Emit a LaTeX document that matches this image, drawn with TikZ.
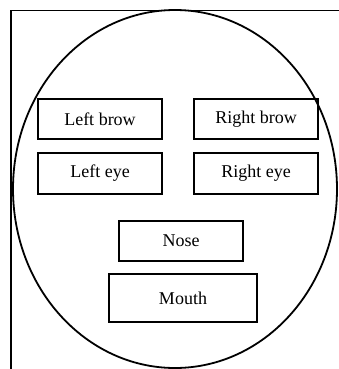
\documentclass[tikz,border=0pt]{standalone}
\usepackage{fontspec}
\setmainfont{Liberation Serif}
\begin{document}
\begin{tikzpicture}[x=1pt,y=-1pt,
  part/.style={draw, line width=1.5pt, minimum width=124pt, minimum height=40pt, inner sep=0pt, font=\fontsize{18}{21}\selectfont}]
\useasboundingbox (0,0) rectangle (339,369);
\coordinate (tr) at (339,10.5);
\coordinate (tl) at (11,10.5);
\coordinate (bl) at (11,369);
\draw[line width=1.5pt] (tr) -- (tl) -- (bl);
\coordinate (c) at (175,189);
\draw[line width=1.8pt] (c) ellipse [x radius=162, y radius=179];
\node[part] (lbrow) at (100,119) {Left brow};
\node[part] (rbrow) at (256,119) {Right brow};
\node[part, minimum height=41pt] (leye) at (100,173.5) {Left eye};
\node[part, minimum height=41pt] (reye) at (256,173.5) {Right eye};
\node[part] (nose) at (181,241) {Nose};
\node[part, minimum width=148pt, minimum height=48pt] (mouth) at (183,298) {Mouth};
\end{tikzpicture}
\end{document}
